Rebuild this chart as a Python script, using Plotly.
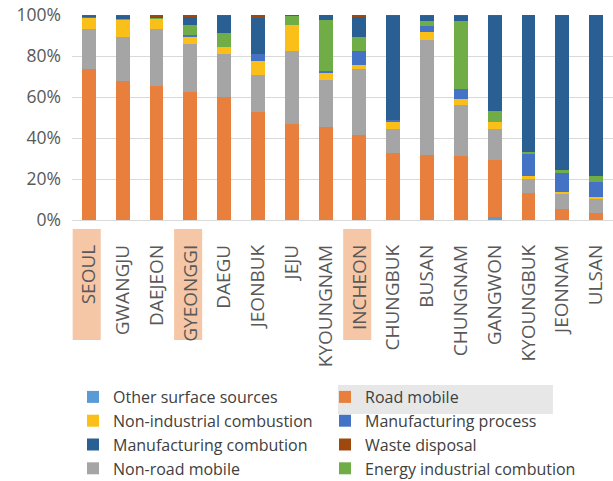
import plotly.graph_objects as go

regions = ["SEOUL", "GWANGJU", "DAEJEON", "GYEONGGI", "DAEGU", "JEONBUK", "JEJU",
           "KYOUNGNAM", "INCHEON", "CHUNGBUK", "BUSAN", "CHUNGNAM", "GANGWON",
           "KYOUNGBUK", "JEONNAM", "ULSAN"]

other_surface    = [0, 0, 0, 0, 0, 0, 0, 0, 0, 0, 0, 0, 1.6, 0, 0, 0]
road_mobile      = [73.5, 68.0, 65.5, 62.4, 60.0, 52.5, 47.0, 45.5, 41.5, 32.5, 31.7, 31.4, 27.7, 13.3, 5.4, 3.6]
non_road_mobile  = [19.5, 21.3, 27.5, 23.6, 20.8, 18.4, 35.2, 22.8, 32.2, 11.9, 56.1, 24.7, 15.1, 6.5, 7.6, 6.8]
non_industrial   = [5.9, 8.7, 5.2, 3.6, 3.8, 6.7, 13.0, 3.2, 1.9, 3.6, 4.1, 2.8, 3.6, 1.7, 0.5, 0.7]
manuf_process    = [0.2, 0.0, 0.1, 0.6, 0.0, 3.2, 0.0, 1.3, 7.0, 0.8, 2.7, 4.8, 0.0, 11.0, 9.8, 7.4]
energy_ind       = [0.4, 0.2, 0.6, 4.9, 6.5, 0.0, 4.4, 24.6, 6.8, 0.0, 2.5, 33.4, 5.3, 0.8, 0.9, 3.0]
manuf_combustion = [0.2, 1.6, 0.4, 4.1, 8.6, 17.9, 0.0, 2.6, 10.1, 50.9, 2.6, 2.7, 46.4, 66.7, 75.8, 78.5]
waste_disposal   = [0.3, 0.2, 0.7, 0.8, 0.3, 1.3, 0.4, 0.0, 0.5, 0.3, 0.3, 0.2, 0.3, 0.0, 0.0, 0.0]

highlighted = ["SEOUL", "GYEONGGI", "INCHEON"]

# (name, values, color, legend column, legend rank) in stacking order bottom -> top
series = [
    ("Other surface sources", other_surface, "#5B9BD5", "legend", 1),
    ("Road mobile", road_mobile, "#E97F3C", "legend2", 1),
    ("Non-road mobile", non_road_mobile, "#A5A5A5", "legend", 4),
    ("Non-industrial combustion", non_industrial, "#FBBF1A", "legend", 2),
    ("Manufacturing process", manuf_process, "#4472C4", "legend2", 2),
    ("Energy industrial combution", energy_ind, "#70AD47", "legend2", 4),
    ("Manufacturing combution", manuf_combustion, "#2A5F93", "legend", 3),
    ("Waste disposal", waste_disposal, "#9E480E", "legend2", 3),
]

fig = go.Figure()
for name, vals, color, leg, rank in series:
    fig.add_trace(go.Bar(x=regions, y=vals, name=name, marker_color=color,
                         marker_line_width=0, legend=leg, legendrank=rank))

shapes = []
for r in highlighted:
    i = regions.index(r)
    shapes.append(dict(type="rect", xref="x", yref="paper",
                       x0=i - 0.48, x1=i + 0.35, y0=-0.044, y1=-0.585,
                       fillcolor="#F6C7A7", line_width=0, layer="below"))
# highlight behind "Road mobile" legend entry
shapes.append(dict(type="rect", xref="paper", yref="paper",
                   x0=0.4917, x1=0.889, y0=-(385 - 220) / 205, y1=-(414 - 220) / 205,
                   fillcolor="#E7E7E7", line_width=0, layer="below"))

legend_common = dict(orientation="v", yref="container", xref="paper",
                     y=1 - 380 / 481, yanchor="top", xanchor="left",
                     font=dict(size=16, color="#404040"),
                     bgcolor="rgba(0,0,0,0)", traceorder="normal")

fig.update_layout(
    barmode="stack",
    bargap=0.59,
    width=613, height=481,
    margin=dict(l=72, r=0, t=15, b=261),
    paper_bgcolor="white", plot_bgcolor="white",
    font=dict(family="Open Sans", color="#595959"),
    shapes=shapes,
    showlegend=True,
    legend=dict(x=(73 - 72) / 541, **legend_common),
    legend2=dict(x=(325 - 72) / 541, **legend_common),
)
fig.update_xaxes(tickangle=-90, tickfont=dict(size=19, color="#595959"),
                 ticklabelstandoff=20, showgrid=False, showline=False)
fig.update_yaxes(range=[0, 100], dtick=20, ticksuffix="%",
                 tickfont=dict(size=17.5, color="#595959"),
                 gridcolor="#D9D9D9", gridwidth=1, zeroline=True,
                 zerolinecolor="#D9D9D9", zerolinewidth=1,
                 ticklabelstandoff=10)

fig.write_html("out.html")
